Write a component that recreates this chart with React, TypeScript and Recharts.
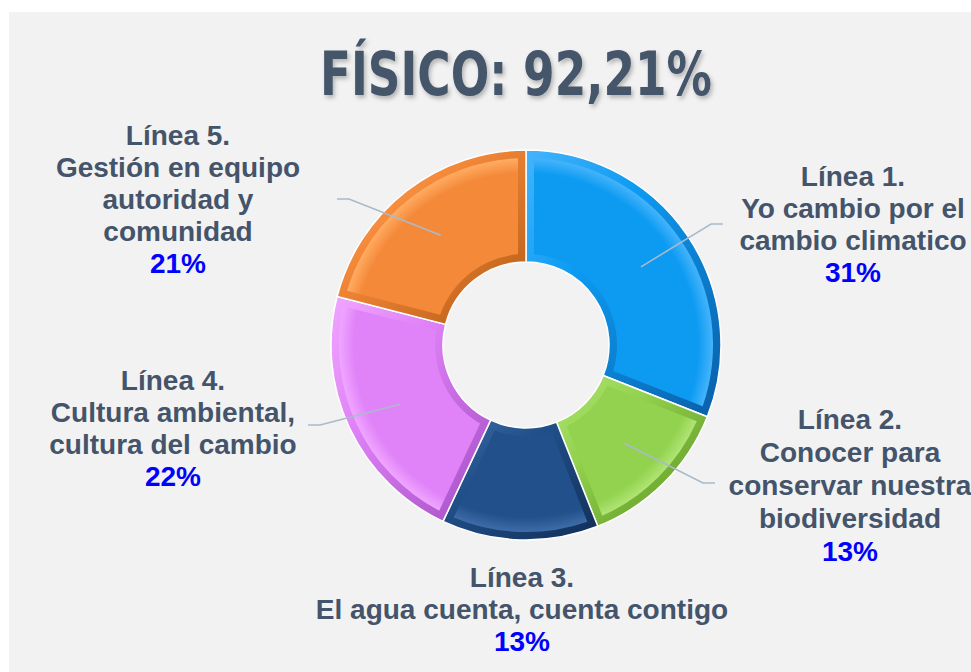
import React from 'react';
import { PieChart, Pie, Cell } from 'recharts';

const titulo = 'FÍSICO: 92,21%';
const lineas = ['Línea 1.', 'Línea 2.', 'Línea 3.', 'Línea 4.', 'Línea 5.'];
const descripciones = [
  ['Yo cambio por el', 'cambio climatico'],
  ['Conocer para', 'conservar nuestra', 'biodiversidad'],
  ['El agua cuenta, cuenta contigo'],
  ['Cultura ambiental,', 'cultura del cambio'],
  ['Gestión en equipo', 'autoridad y', 'comunidad'],
];
const porcentajes = [31, 13, 13, 22, 21];

const colores = ['#0d9bf2', '#92d24e', '#21508a', '#e083f8', '#f5893a'];
const claros = ['#45b4fb', '#b0e575', '#3d6ca8', '#f0a6ff', '#ffac62'];
const oscuros = ['#0a5ea8', '#5a9020', '#112f58', '#a24cc2', '#b25a14'];

// label block placement, relative to the pie centre
const bloques = [
  { dx: 327, dy: -159, lh: 32, lead: [185, -121, 197] },
  { dx: 324, dy: 84, lh: 33, lead: [177, 138, 189] },
  { dx: -4, dy: 242, lh: 32, lead: null },
  { dx: -353, dy: 45, lh: 32, lead: [-206, 80, -218] },
  { dx: -348, dy: -200, lh: 32, lead: [-177, -146, -189] },
];

const datos = porcentajes.map((v, i) => ({ name: lineas[i], value: v }));

const CX = 526;
const CY = 345;
const RAD = Math.PI / 180;
const BISEL = 8;

const punto = (cx: number, cy: number, r: number, a: number) =>
  [cx + r * Math.cos(a * RAD), cy - r * Math.sin(a * RAD)];

const caraPath = (cx: number, cy: number, ri: number, ro: number, s: number, e: number) => {
  const r1 = ro - BISEL;
  const r2 = ri + BISEL;
  const d1 = Math.asin(BISEL / r1) / RAD;
  const d2 = Math.asin(BISEL / r2) / RAD;
  const [ax, ay] = punto(cx, cy, r1, s - d1);
  const [bx, by] = punto(cx, cy, r1, e + d1);
  const [c1, c2] = punto(cx, cy, r2, e + d2);
  const [dx, dy] = punto(cx, cy, r2, s - d2);
  const big1 = s - e - 2 * d1 > 180 ? 1 : 0;
  const big2 = s - e - 2 * d2 > 180 ? 1 : 0;
  return `M${ax},${ay} A${r1},${r1} 0 ${big1} 1 ${bx},${by} L${c1},${c2} A${r2},${r2} 0 ${big2} 0 ${dx},${dy} Z`;
};

const fuente = '"Liberation Sans", Arial, sans-serif';

const renderEtiqueta = (props: any) => {
  const { cx, cy, innerRadius, outerRadius, startAngle, endAngle, midAngle, index } = props;
  const b = bloques[index];
  const rm = (innerRadius + outerRadius) / 2;
  const [sx, sy] = punto(cx, cy, rm, midAngle);
  const textos = [lineas[index], ...descripciones[index]];
  return (
    <g>
      <path
        d={caraPath(cx, cy, innerRadius, outerRadius, startAngle, endAngle)}
        fill={`url(#cara-${index})`}
      />
      {b.lead && (
        <polyline
          points={`${sx},${sy} ${cx + b.lead[0]},${cy + b.lead[1]} ${cx + b.lead[2]},${cy + b.lead[1]}`}
          fill="none"
          stroke="#a9bacb"
          strokeWidth={1.6}
        />
      )}
      <text
        x={cx + b.dx}
        y={cy + b.dy}
        textAnchor="middle"
        fontFamily={fuente}
        fontWeight="bold"
        fontSize={28}
      >
        {textos.map((t, k) => (
          <tspan key={k} x={cx + b.dx} y={cy + b.dy + k * b.lh} fill="#44546a">
            {t}
          </tspan>
        ))}
        <tspan x={cx + b.dx} y={cy + b.dy + textos.length * b.lh} fill="#0000ff">
          {`${porcentajes[index]}%`}
        </tspan>
      </text>
    </g>
  );
};

export default function App() {
  return (
    <div style={{ position: 'absolute', left: 0, top: 0, width: 971, height: 672, background: '#ffffff', overflow: 'hidden' }}>
      <div style={{ position: 'absolute', left: 9, top: 12, right: 0, bottom: 0, background: '#f2f2f2' }} />
      <div style={{ position: 'absolute', left: 0, top: 0 }}>
        <PieChart width={971} height={672} margin={{ top: 0, right: 0, bottom: 0, left: 0 }}>
          <defs>
            {colores.map((c, i) => (
              <linearGradient key={`b${i}`} id={`borde-${i}`} x1="0" y1="0" x2="1" y2="1">
                <stop offset="0%" stopColor={claros[i]} />
                <stop offset="35%" stopColor={c} />
                <stop offset="100%" stopColor={oscuros[i]} />
              </linearGradient>
            ))}
            {colores.map((c, i) => (
              <radialGradient
                key={`c${i}`}
                id={`cara-${i}`}
                gradientUnits="userSpaceOnUse"
                cx={CX}
                cy={CY}
                r={187}
              >
                <stop offset="50%" stopColor={c} />
                <stop offset="92%" stopColor={c} />
                <stop offset="100%" stopColor={claros[i]} />
              </radialGradient>
            ))}
          </defs>
          <Pie
            data={datos}
            dataKey="value"
            nameKey="name"
            cx={CX}
            cy={CY}
            innerRadius={83}
            outerRadius={195}
            startAngle={90}
            endAngle={-270}
            stroke="#ffffff"
            strokeWidth={1.5}
            label={renderEtiqueta}
            labelLine={false}
            isAnimationActive={false}
          >
            {datos.map((d, i) => (
              <Cell key={d.name} fill={`url(#borde-${i})`} />
            ))}
          </Pie>
        </PieChart>
      </div>
      <svg width={971} height={130} style={{ position: 'absolute', left: 0, top: 0 }}>
        <defs>
          <filter id="sombra" x="-10%" y="-20%" width="120%" height="160%">
            <feDropShadow dx={2} dy={3} stdDeviation={2} floodColor="#000000" floodOpacity={0.25} />
          </filter>
        </defs>
        <text
          x={516}
          y={95}
          textAnchor="middle"
          fontFamily='"Liberation Sans Narrow", "DejaVu Sans Condensed", Arial, sans-serif'
          fontWeight="bold"
          fontSize={60}
          fill="#44546a"
          textLength={392}
          lengthAdjust="spacingAndGlyphs"
          filter="url(#sombra)"
        >
          {titulo}
        </text>
      </svg>
    </div>
  );
}
